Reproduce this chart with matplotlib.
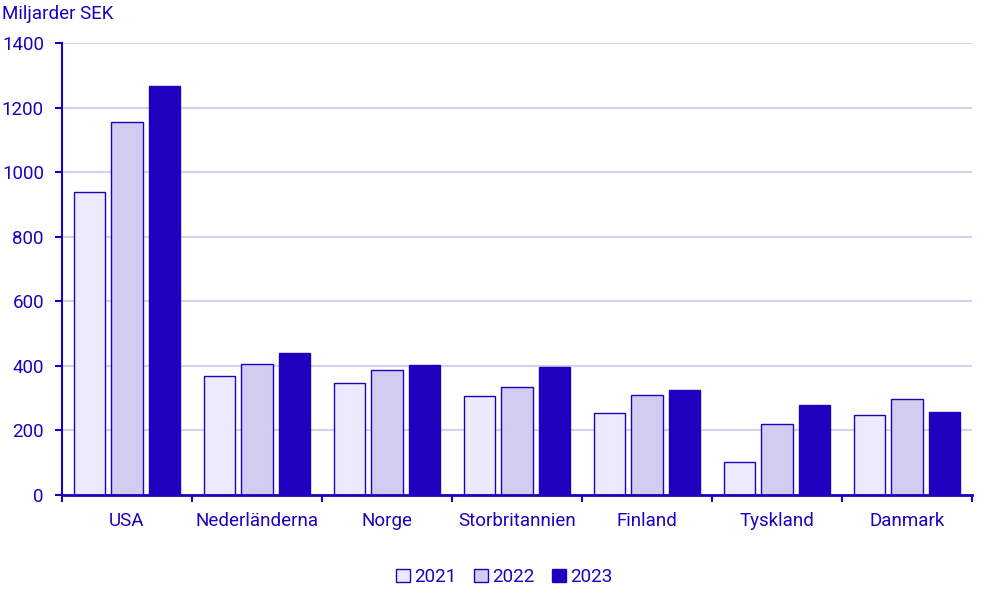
import matplotlib
matplotlib.use("Agg")
import matplotlib.pyplot as plt
import numpy as np
from matplotlib.ticker import FixedLocator, NullFormatter

plt.rcParams['font.family'] = ['Roboto', 'DejaVu Sans']

categories = ["USA", "Nederländerna", "Norge", "Storbritannien", "Finland", "Tyskland", "Danmark"]
years = ["2021", "2022", "2023"]
v2021 = [938, 368, 347, 306, 253, 101, 247]
v2022 = [1155, 406, 387, 334, 309, 219, 296]
v2023 = [1267, 440, 403, 397, 324, 279, 257]
series = [v2021, v2022, v2023]

blue = "#1E00BE"
fills = ["#ECEBFD", "#D2CDF0", blue]
grid_c = "#D5D2EE"
fs = 13.5

fig = plt.figure(figsize=(9.97, 6.0), dpi=100)
ax = fig.add_axes([62/997, 1-495/600, (972-62)/997, (495-43)/600])

x = np.arange(len(categories))
offs = [-0.288, 0.0, 0.288]
w = 0.24
for i, (vals, fc) in enumerate(zip(series, fills)):
    ax.bar(x + offs[i], vals, width=w, color=fc, edgecolor=blue, linewidth=1.0,
           label=years[i], zorder=3)

ax.set_xlim(-0.5, len(categories) - 0.5)
ax.set_ylim(0, 1400)
ax.set_yticks(np.arange(0, 1401, 200))
ax.yaxis.grid(True, color=grid_c, linewidth=1.5, zorder=0)
ax.set_axisbelow(True)

ax.set_xticks(x)
ax.set_xticklabels(categories)
ax.tick_params(axis='x', which='major', length=0, pad=12.5, labelsize=fs, labelcolor=blue)
ax.xaxis.set_minor_locator(FixedLocator(np.arange(-0.5, len(categories), 1.0)))
ax.xaxis.set_minor_formatter(NullFormatter())
ax.tick_params(axis='x', which='minor', length=5, width=1.5, color=blue)
ax.tick_params(axis='y', length=5, width=1.5, color=blue, labelsize=fs, labelcolor=blue, pad=8)

for s in ['top', 'right']:
    ax.spines[s].set_visible(False)
ax.spines['left'].set_color(blue)
ax.spines['left'].set_linewidth(1.5)
ax.spines['bottom'].set_color(blue)
ax.spines['bottom'].set_linewidth(2)
ax.spines['bottom'].set_zorder(4)

fig.text(2/997, 1-14/600, "Miljarder SEK", color=blue, fontsize=fs, va='center', ha='left')

leg = fig.legend(loc='center', bbox_to_anchor=(504/997, 1-577/600), ncol=3, frameon=False,
                 fontsize=fs, handlelength=0.75, handleheight=0.75, handletextpad=0.2,
                 columnspacing=0.95)
for t in leg.get_texts():
    t.set_color(blue)

fig.savefig("out.png", dpi=100)
